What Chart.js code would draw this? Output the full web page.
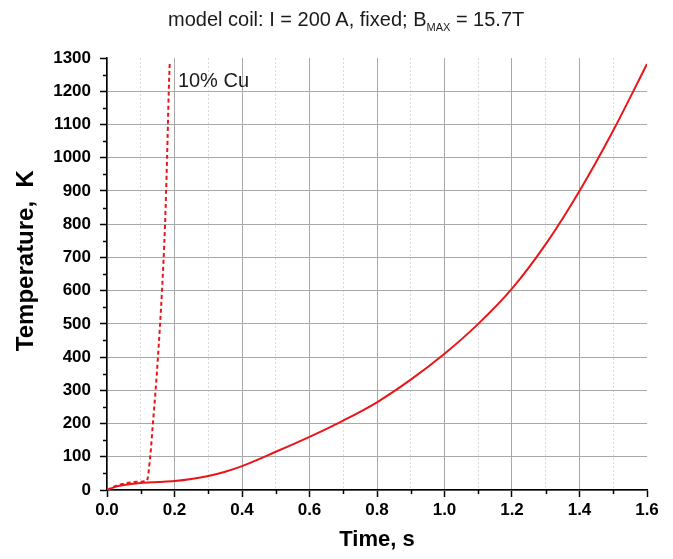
<!DOCTYPE html>
<html lang="en">

<head>
  <meta charset="UTF-8">
  <title>Model coil temperature</title>
  <script src="https://cdn.jsdelivr.net/npm/chart.js"></script>
  <style>
    body { margin: 0; background: #fff; }
    #wrap { position: relative; width: 673px; height: 559px; }
    #title {
      position: absolute; left: 168px; top: 9px;
      font: 20px "Liberation Sans", Arial, sans-serif; line-height: 20px;
      color: #1a1a1a; white-space: nowrap;
    }
    #title sub { font-size: 11px; vertical-align: -5px; line-height: 0; }
  </style>
</head>

<body>
  <div id="wrap">
    <canvas id="tempChart" width="673" height="559"></canvas>
    <div id="title">model coil: I = 200 A, fixed; B<sub>MAX</sub> = 15.7T</div>
  </div>

  <script>
    // solid curve (coil as built)
    const timeMain = [0, 0.02, 0.05, 0.1, 0.15, 0.2, 0.25, 0.3, 0.35, 0.4, 0.5, 0.6, 0.7, 0.8, 0.9, 1.0, 1.1, 1.2, 1.3, 1.4, 1.5, 1.6];
    const tempMain = [0, 8, 15, 21, 24, 27, 33, 42, 55, 72, 115, 160, 209, 264, 332, 410, 500, 606, 740, 900, 1082, 1282];

    // dashed curve, 10% Cu
    const timeCu = [0, 0.03, 0.06, 0.09, 0.118, 0.128, 0.136, 0.144, 0.151, 0.163, 0.172, 0.178, 0.183, 0.186];
    const tempCu = [0, 14, 21, 25, 28, 100, 200, 300, 400, 600, 800, 1000, 1200, 1290];

    const cuLabel = '10% Cu';
    const xTitle = 'Time, s';
    const yTitle = 'Temperature,  K';

    const red = 'rgb(232,22,26)';
    const toPoints = (xs, ys) => xs.map((x, i) => ({ x: x, y: ys[i] }));

    // short minor ticks + curve label
    const extras = {
      id: 'extras',
      afterDraw(chart) {
        const { ctx, scales: { x, y } } = chart;
        ctx.save();
        ctx.strokeStyle = '#000';
        ctx.lineWidth = 1.5;
        ctx.beginPath();
        for (let i = 1; i < 16; i += 2) {
          const px = Math.round(x.getPixelForValue(i / 10)) + 0.5;
          ctx.moveTo(px, y.bottom);
          ctx.lineTo(px, y.bottom + 4);
        }
        for (let v = 50; v < 1300; v += 100) {
          const py = Math.round(y.getPixelForValue(v)) + 0.5;
          ctx.moveTo(x.left, py);
          ctx.lineTo(x.left - 4, py);
        }
        ctx.stroke();
        ctx.fillStyle = '#1a1a1a';
        ctx.font = '20px "Liberation Sans", Arial, sans-serif';
        ctx.textBaseline = 'middle';
        ctx.fillText(cuLabel, x.getPixelForValue(0.21), y.getPixelForValue(1228));
        ctx.restore();
      }
    };

    Chart.defaults.font.family = '"Liberation Sans", Arial, sans-serif';
    Chart.defaults.color = '#000';

    const isMinorX = v => Math.round(v * 10) % 2 !== 0;

    new Chart(document.getElementById('tempChart'), {
      type: 'line',
      data: {
        datasets: [
          {
            data: toPoints(timeMain, tempMain),
            borderColor: red, borderWidth: 2, pointRadius: 0,
            cubicInterpolationMode: 'monotone'
          },
          {
            data: toPoints(timeCu, tempCu),
            borderColor: red, borderWidth: 2, pointRadius: 0, borderDash: [4, 3],
            cubicInterpolationMode: 'monotone'
          }
        ]
      },
      options: {
        responsive: false,
        animation: false,
        devicePixelRatio: 1,
        layout: { padding: { top: 58, right: 26, bottom: 0, left: 0 } },
        plugins: { legend: { display: false }, tooltip: { enabled: false } },
        scales: {
          x: {
            type: 'linear', min: 0, max: 1.6,
            afterFit: s => { s.height = 69; },
            ticks: {
              stepSize: 0.1, autoSkip: false, maxRotation: 0, padding: 3,
              font: { size: 17, weight: 'bold' },
              callback: v => isMinorX(v) ? '' : v.toFixed(1)
            },
            grid: {
              color: c => {
                const v = c.tick ? c.tick.value : 0;
                if (v >= 1.59) return 'rgba(0,0,0,0)';
                return isMinorX(v) ? '#dadada' : '#a8a8a8';
              },
              lineWidth: 1,
              tickLength: 7, tickWidth: 1.5,
              tickColor: c => (c.tick && isMinorX(c.tick.value)) ? 'rgba(0,0,0,0)' : '#000'
            },
            border: {
              color: '#000', width: 1.5,
              dash: c => (c.tick && isMinorX(c.tick.value)) ? [2, 2] : []
            },
            title: {
              display: true, text: xTitle, padding: { top: 6, bottom: 6 },
              font: { size: 22, weight: 'bold' }
            }
          },
          y: {
            min: 0, max: 1300,
            afterFit: s => { s.width = 107; },
            ticks: {
              stepSize: 50, autoSkip: false, padding: 9,
              font: { size: 17, weight: 'bold' },
              callback: v => v % 100 === 0 ? v : ''
            },
            grid: {
              color: c => {
                const v = c.tick ? c.tick.value : 0;
                return (v % 100 !== 0 || v === 1300) ? 'rgba(0,0,0,0)' : '#a8a8a8';
              },
              lineWidth: 1,
              tickLength: 7, tickWidth: 1.5,
              tickColor: c => (c.tick && c.tick.value % 100 !== 0) ? 'rgba(0,0,0,0)' : '#000'
            },
            border: { color: '#000', width: 1.5 },
            title: {
              display: true, text: '    ' + yTitle, padding: { top: 12, bottom: 12 },
              font: { size: 24, weight: 'bold' }
            }
          }
        }
      },
      plugins: [extras]
    });
  </script>
</body>

</html>
